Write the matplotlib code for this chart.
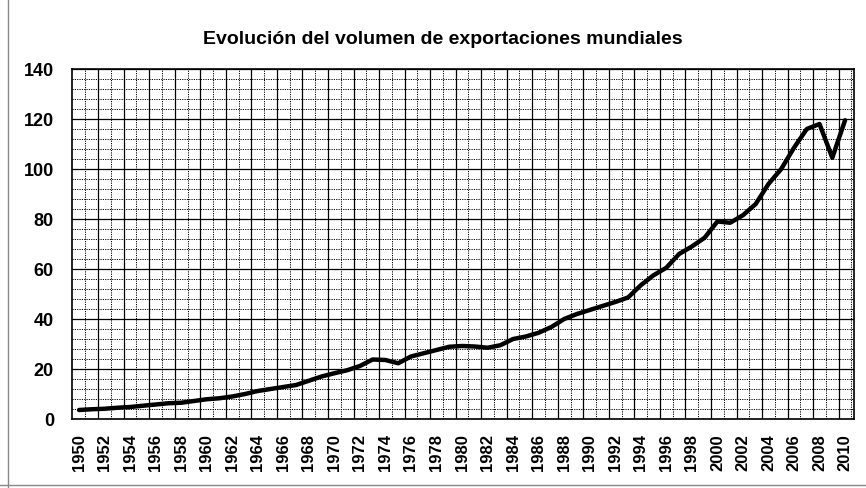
import matplotlib
matplotlib.use('Agg')
from matplotlib import pyplot as plt
from matplotlib.lines import Line2D
import numpy as np

plt.rcParams['font.family'] = ['Liberation Sans', 'DejaVu Sans']

years = list(range(1950, 2011))
volume = [3.6, 3.9, 4.1, 4.5, 4.8, 5.3, 5.8, 6.3, 6.5, 7.2,
          7.9, 8.3, 9.0, 10.0, 11.2, 12.0, 12.8, 13.6, 15.3, 17.0,
          18.3, 19.5, 21.2, 23.8, 23.6, 22.3, 25.0, 26.3, 27.6, 28.9,
          29.2, 29.0, 28.5, 29.5, 32.0, 33.0, 34.5, 36.8, 40.0, 42.0,
          43.6, 45.2, 46.8, 48.6, 53.5, 57.5, 60.5, 66.0, 69.0, 72.5,
          79.0, 78.5, 81.5, 86.0, 94.0, 100.0, 108.5, 116.0, 118.0, 104.5,
          119.5]
label_years = years[::2]

fig = plt.figure(figsize=(8.66, 4.88), dpi=100)
ax = fig.add_axes([72 / 866, 1 - 419 / 488, (854 - 72) / 866, 350 / 488])

# grid like the old spreadsheet chart
for y in np.arange(0, 141, 4):
    if y % 20 == 0:
        ax.axhline(y, color='black', lw=0.9, zorder=1)
    else:
        ax.axhline(y, color='black', lw=0.7, ls=(0, (1.2, 1.2)), zorder=1)
for i, x in enumerate(np.arange(1950.5, 2010.6, 1.0)):
    if i % 2 == 1:
        ax.axvline(x, color='black', lw=0.9, zorder=1)
    else:
        ax.axvline(x, color='black', lw=0.7, ls=(0, (1.2, 1.2)), zorder=1)

ax.plot(years, volume, color='black', lw=3.2, solid_capstyle='round', zorder=3)

ax.set_xlim(1949.45, 2010.7)
ax.set_ylim(0, 140)
ax.set_yticks(range(0, 141, 20))
ax.set_xticks(label_years)
ax.set_xticklabels([str(y) for y in label_years], rotation=90,
                   fontsize=12, fontweight='bold')
ax.tick_params(axis='x', length=0, pad=11)
ax.tick_params(axis='y', length=0, pad=13, labelsize=13)
for lab in ax.get_yticklabels():
    lab.set_fontweight('bold')
for sp in ax.spines.values():
    sp.set_color('black')
    sp.set_linewidth(1.2)

fig.text(443 / 866, 1 - 40 / 488, 'Evolución del volumen de exportaciones mundiales',
         ha='center', va='center', fontsize=14, fontweight='bold')

# chart area border (left and bottom visible in the scan)
fig.add_artist(Line2D([8 / 866, 8 / 866], [0, 1], color='#888888', lw=1,
                      transform=fig.transFigure))
fig.add_artist(Line2D([0, 1], [3 / 488, 3 / 488], color='#888888', lw=1,
                      transform=fig.transFigure))

plt.savefig('out.png', dpi=100)
